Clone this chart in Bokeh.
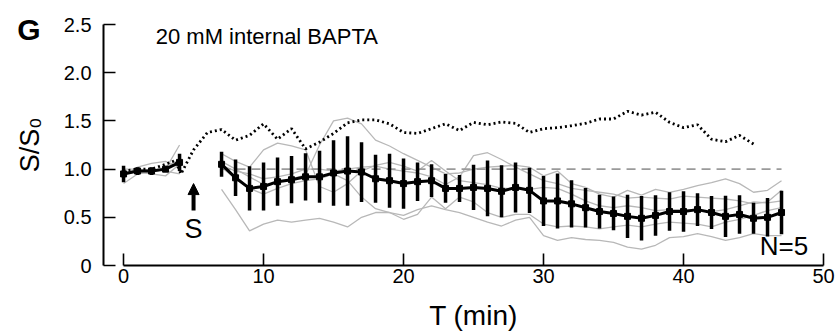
from bokeh.plotting import figure
from bokeh.models import FixedTicker, Label, Arrow, NormalHead, ColumnDataSource
from bokeh.embed import file_html
from bokeh.resources import INLINE

FONT = "Liberation Sans"

# ---------------- data ----------------
t_pre = [0, 1, 2, 3, 4]
mean_pre = [0.95, 0.98, 0.98, 1.00, 1.07]
sd_pre = [0.085, 0.04, 0.04, 0.03, 0.09]

t_post = list(range(7, 48))
mean_post = [1.05, 0.91, 0.80, 0.82, 0.87, 0.89, 0.92, 0.92, 0.96, 0.98, 0.97, 0.90, 0.88, 0.85,
             0.87, 0.88, 0.80, 0.80, 0.81, 0.80, 0.77, 0.81, 0.78, 0.67, 0.67, 0.64, 0.60, 0.56,
             0.54, 0.51, 0.49, 0.52, 0.56, 0.56, 0.58, 0.55, 0.51, 0.53, 0.49, 0.50, 0.55]
sd_post = [0.13, 0.19, 0.23, 0.25, 0.25, 0.245, 0.245, 0.27, 0.34, 0.36, 0.31, 0.25, 0.28, 0.26,
           0.20, 0.17, 0.15, 0.14, 0.235, 0.29, 0.27, 0.26, 0.235, 0.26, 0.285, 0.245, 0.205, 0.175,
           0.175, 0.225, 0.23, 0.21, 0.20, 0.21, 0.17, 0.17, 0.215, 0.20, 0.16, 0.20, 0.225]

# individual cells (grey traces)
cells_pre = [
    [0.85, 0.95, 0.97, 1.00, 1.25],
    [0.93, 1.02, 1.06, 1.08, 1.02],
    [0.98, 0.97, 0.95, 0.93, 1.05],
    [1.00, 1.00, 0.98, 1.02, 1.10],
    [0.97, 0.98, 1.00, 0.98, 0.95],
]
cells_post = [
    [1.16, 1.08, 1.02, 1.20, 1.27, 1.24, 1.20, 0.82, 0.76, 0.85, 0.98, 1.04, 1.07, 1.03, 0.98, 1.09,
     0.98, 0.88, 0.86, 0.84, 0.80, 0.80, 0.79, 0.81, 0.80, 0.74, 0.67, 0.62, 0.60, 0.62, 0.60, 0.57,
     0.58, 0.58, 0.57, 0.56, 0.58, 0.62, 0.66, 0.65, 0.67],
    [1.08, 1.00, 0.92, 0.84, 0.86, 0.90, 0.94, 1.25, 1.50, 1.53, 1.47, 1.30, 1.24, 1.16, 1.09, 1.02,
     0.95, 0.96, 1.00, 1.02, 1.03, 1.04, 1.02, 0.93, 0.98, 0.85, 0.81, 0.74, 0.71, 0.78, 0.73, 0.79,
     0.76, 0.79, 0.83, 0.86, 0.90, 0.85, 0.76, 0.78, 0.88],
    [1.04, 0.98, 0.95, 0.90, 0.92, 0.95, 1.00, 1.00, 0.98, 1.00, 1.02, 1.03, 1.00, 0.98, 0.96, 0.92,
     0.84, 0.92, 1.14, 1.17, 1.10, 1.02, 0.95, 0.88, 0.85, 0.80, 0.78, 0.76, 0.74, 0.70, 0.71, 0.70,
     0.69, 0.72, 0.71, 0.70, 0.69, 0.67, 0.64, 0.66, 0.78],
    [1.02, 0.90, 0.80, 0.74, 0.80, 0.85, 0.88, 0.90, 0.95, 0.88, 0.71, 0.59, 0.55, 0.48, 0.53, 0.71,
     0.59, 0.71, 0.66, 0.55, 0.50, 0.53, 0.53, 0.43, 0.40, 0.41, 0.40, 0.38, 0.40, 0.42, 0.40, 0.43,
     0.45, 0.44, 0.43, 0.40, 0.45, 0.48, 0.52, 0.57, 0.60],
    [0.79, 0.58, 0.36, 0.43, 0.47, 0.45, 0.47, 0.49, 0.45, 0.40, 0.50, 0.55, 0.55, 0.52, 0.58, 0.62,
     0.58, 0.55, 0.50, 0.45, 0.41, 0.47, 0.50, 0.31, 0.26, 0.29, 0.27, 0.26, 0.24, 0.19, 0.17, 0.21,
     0.29, 0.30, 0.33, 0.30, 0.26, 0.29, 0.33, 0.31, 0.31],
]

# control (dotted) trace
t_ctrl = [0, 1, 2, 3, 3.7, 4.1, 5, 6, 7, 8, 9, 10, 11, 12, 13, 14, 15, 16, 17, 18, 19, 20, 21, 22,
          23, 24, 25, 26, 27, 28, 29, 30, 31, 32, 33, 34, 35, 36, 37, 38, 39, 40, 41, 42, 43, 44, 45]
v_ctrl = [0.98, 1.00, 1.00, 1.05, 1.09, 0.95, 1.20, 1.38, 1.41, 1.30, 1.35, 1.47, 1.31, 1.42, 1.21,
          1.28, 1.37, 1.48, 1.51, 1.51, 1.47, 1.38, 1.37, 1.42, 1.47, 1.40, 1.485, 1.46, 1.49, 1.475,
          1.38, 1.42, 1.43, 1.45, 1.475, 1.52, 1.52, 1.60, 1.56, 1.59, 1.485, 1.43, 1.46, 1.31, 1.285,
          1.35, 1.26]

baseline_t = [7, 47]
baseline_v = [1.0, 1.0]

x_ticks = [0, 10, 20, 30, 40, 50]
y_ticks = [0, 0.5, 1.0, 1.5, 2.0, 2.5]
y_tick_labels = ["0", "0.5", "1.0", "1.5", "2.0", "2.5"]
y_axis_at = -1.43   # x position of the S/S0 axis (offset left of t = 0)
x_axis_at = 0.0

# ---------------- figure ----------------
p = figure(width=838, height=336, x_range=(-8.79, 51.07), y_range=(-0.736, 2.749),
           output_backend="svg", toolbar_location=None,
           min_border_left=0, min_border_right=0, min_border_top=0, min_border_bottom=0)
p.outline_line_color = None
p.xgrid.visible = False
p.ygrid.visible = False
p.background_fill_color = "white"
p.border_fill_color = "white"

# grey individual traces
for c in cells_pre:
    p.line(t_pre, c, line_color="#b8b8b8", line_width=1.3)
for c in cells_post:
    p.line(t_post, c, line_color="#b8b8b8", line_width=1.3)

# baseline
p.line(baseline_t, baseline_v, line_color="#9a9a9a", line_width=1.6, line_dash="9 6")

# control dotted
p.line(t_ctrl, v_ctrl, line_color="black", line_width=2.8, line_dash="2 3")

# mean +/- sd
for tt, mm, ss in ((t_pre, mean_pre, sd_pre), (t_post, mean_post, sd_post)):
    src = ColumnDataSource(dict(t=tt, m=mm,
                                lo=[a - b for a, b in zip(mm, ss)],
                                hi=[a + b for a, b in zip(mm, ss)]))
    p.segment(x0="t", y0="lo", x1="t", y1="hi", source=src, line_color="black", line_width=3.5)
    p.line("t", "m", source=src, line_color="black", line_width=3)
    p.scatter("t", "m", source=src, marker="square", size=6, color="black")

# axes
xa = p.xaxis[0]
xa.fixed_location = x_axis_at
xa.ticker = FixedTicker(ticks=x_ticks)
xa.bounds = (0, 50)
xa.major_tick_in = 12
xa.major_tick_out = 0
xa.minor_tick_line_color = None
xa.axis_line_width = 2
xa.major_tick_line_width = 1.6
xa.major_label_text_font = FONT
xa.major_label_text_font_size = "20px"
xa.major_label_text_color = "black"
xa.major_label_standoff = 3
xa.axis_label = "T (min)"
xa.axis_label_text_font = FONT
xa.axis_label_text_font_size = "28px"
xa.axis_label_text_font_style = "normal"
xa.axis_label_text_color = "black"
xa.axis_label_standoff = 14

ya = p.yaxis[0]
ya.fixed_location = y_axis_at
ya.ticker = FixedTicker(ticks=y_ticks)
ya.major_label_overrides = {k: v for k, v in zip(y_ticks, y_tick_labels)}
ya.bounds = (0, 2.5)
ya.major_tick_in = 12
ya.major_tick_out = 0
ya.minor_tick_line_color = None
ya.axis_line_width = 2
ya.major_tick_line_width = 1.6
ya.major_label_text_font = FONT
ya.major_label_text_font_size = "20px"
ya.major_label_text_color = "black"
ya.major_label_standoff = 12
ya.axis_label = "S/S\u2080"
ya.axis_label_text_font = FONT
ya.axis_label_text_font_size = "27px"
ya.axis_label_text_font_style = "normal"
ya.axis_label_text_color = "black"
ya.axis_label_standoff = 16

# annotations
p.add_layout(Label(x=-7.6, y=2.45, text="G",
                   text_font=FONT, text_font_size="30px", text_font_style="bold",
                   text_baseline="alphabetic", text_align="left", text_color="black"))
p.add_layout(Label(x=2.3, y=2.38, text="20 mM internal BAPTA", text_font=FONT,
                   text_font_size="22px", text_baseline="alphabetic", text_align="left",
                   text_color="black"))
p.add_layout(Arrow(end=NormalHead(size=11, fill_color="black", line_color="black"),
                   x_start=5, y_start=0.57, x_end=5, y_end=0.85,
                   line_color="black", line_width=4))
p.add_layout(Label(x=5, y=0.375, text="S", text_font=FONT, text_font_size="27px",
                   text_baseline="alphabetic", text_align="center", text_color="black"))
p.add_layout(Label(x=48.9, y=0.2, text="N=5", text_font=FONT, text_font_size="26px",
                   text_baseline="alphabetic", text_align="right", text_color="black"))

open("out.html", "w").write(file_html(p, INLINE))
